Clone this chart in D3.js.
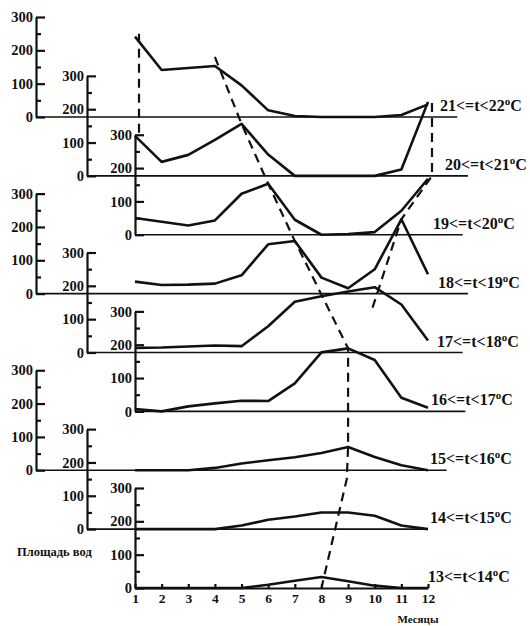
<!DOCTYPE html>
<html>
<head>
<meta charset="utf-8">
<script src="https://cdn.jsdelivr.net/npm/d3@7"></script>
<style>
body { margin: 0; background: #fff; }
text { font-family: "Liberation Serif", "Times New Roman", serif; font-weight: bold; fill: #111; }
</style>
</head>
<body>
<div id="chart"></div>
<script>
// months on the shared x axis
var months = [1, 2, 3, 4, 5, 6, 7, 8, 9, 10, 11, 12];

// temperature bands, top panel first
var bands = ["21<=t<22", "20<=t<21", "19<=t<20", "18<=t<19", "17<=t<18",
             "16<=t<17", "15<=t<16", "14<=t<15", "13<=t<14"];

// water area per month for each band
var t21 = [241, 141, 147, 153, 95, 20, 3, 0, 0, 0, 6, 38];
var t20 = [120, 42, 63, 108, 156, 64, 0, 0, 0, 0, 19, 222];
var t19 = [50, 39, 28, 43, 123, 153, 45, 0, 2, 8, 72, 168];
var t18 = [36, 26, 27, 30, 55, 148, 158, 48, 16, 73, 223, 58];
var t17 = [14, 15, 18, 21, 19, 79, 152, 169, 183, 196, 144, 36];
var t16 = [7, 0, 15, 24, 32, 31, 84, 177, 189, 154, 41, 11];
var t15 = [0, 0, 0, 7, 20, 30, 39, 52, 70, 40, 15, 0];
var t14 = [0, 0, 0, 0, 11, 28, 38, 50, 50, 40, 11, 0];
var t13 = [0, 0, 0, 0, 0, 10, 22, 33, 20, 7, 0, 0];
var series = [t21, t20, t19, t18, t17, t16, t15, t14, t13];

// y axis ticks of every panel
var majorTicks = [0, 100, 200, 300];
var minorTicks = [50, 150, 250];

// dashed guide lines: [panel, month, value]
var dashA = [[0, 1.15, 250], [1, 1.15, 128]];
var dashB = [[0, 4, 180], [1, 5, 156], [2, 6, 153], [3, 7, 158], [5, 9, 189],
             [6, 9, 70], [7, 8.95, 150], [8, 8, 0]];
var dashC = [[0, 12.15, 42], [1, 12.15, 0], [3, 11, 223], [4, 9.9, 130]];

// layout bits
var axisCols = [36, 87, 135];
var baseEnd = [13.1, 13.5, 13.3, 13.5, 13.3, 13.4, 12.7, 12, 12];
var labelX = [440, 445, 433, 438, 437, 431, 430, 430, 428];

var svg = d3.select("#chart")
    .append("svg")
    .attr("width", 530)
    .attr("height", 626);

var x = d3.scaleLinear().domain([1, 12]).range([135, 428]);
var panelY = d3.scalePoint().domain(d3.range(9)).range([117, 588]);
var y = d3.scaleLinear().domain([0, 300]).range([0, -100]);

var line = d3.line()
    .x((d, i) => x(months[i]))
    .y(d => y(d));

series.forEach(function (vals, i) {
    var g = svg.append("g")
        .attr("transform", `translate(0, ${panelY(i)})`);
    var ax = axisCols[i % 3];

    // baseline
    if (i < 8) {
        g.append("line")
            .attr("x1", ax)
            .attr("x2", x(baseEnd[i]))
            .attr("y1", 0)
            .attr("y2", 0)
            .attr("stroke", "#111")
            .attr("stroke-width", 1.7);
    }

    // y axis with labels
    var yAxis = g.append("g")
        .attr("transform", `translate(${ax}, 0)`)
        .call(d3.axisLeft(y).tickValues(majorTicks).tickSize(-9).tickSizeOuter(0).tickPadding(3))
        .attr("font-family", null)
        .attr("font-size", 14.5);
    yAxis.selectAll("path, line").attr("stroke", "#111").attr("stroke-width", 2.2);

    var yMinor = g.append("g")
        .attr("transform", `translate(${ax}, 0)`)
        .call(d3.axisLeft(y).tickValues(minorTicks).tickSize(-5).tickFormat(""));
    yMinor.select(".domain").remove();
    yMinor.selectAll("line").attr("stroke", "#111").attr("stroke-width", 2.2);

    // data line
    g.append("path")
        .datum(vals)
        .attr("d", line)
        .attr("fill", "none")
        .attr("stroke", "#111")
        .attr("stroke-width", 2.6)
        .attr("stroke-linejoin", "round");

    // band label
    var lab = g.append("text")
        .attr("x", labelX[i])
        .attr("y", -6)
        .attr("font-size", 16)
        .text(bands[i]);
    lab.append("tspan").attr("dy", -6).attr("font-size", 11).text("o");
    lab.append("tspan").attr("dy", 6).text("C");
});

// month axis under the last panel
var xAxis = svg.append("g")
    .attr("transform", `translate(0, ${panelY(8)})`)
    .call(d3.axisBottom(x).tickValues(months).tickSize(-4).tickSizeOuter(0).tickPadding(5))
    .attr("font-family", null)
    .attr("font-size", 13.5);
xAxis.selectAll("path, line").attr("stroke", "#111").attr("stroke-width", 2.2);

// dashed guides
var dashLine = d3.line()
    .x(d => x(d[1]))
    .y(d => panelY(d[0]) + y(d[2]));

[dashA, dashB, dashC].forEach(function (pts) {
    svg.append("path")
        .datum(pts)
        .attr("d", dashLine)
        .attr("fill", "none")
        .attr("stroke", "#111")
        .attr("stroke-width", 2.2)
        .attr("stroke-dasharray", "9,6");
});

svg.append("text")
    .attr("x", 17)
    .attr("y", 556)
    .attr("font-size", 12.5)
    .text("Площадь вод");

svg.append("text")
    .attr("x", 418)
    .attr("y", 623)
    .attr("text-anchor", "middle")
    .attr("font-size", 11)
    .text("Месяцы");
</script>
</body>
</html>
